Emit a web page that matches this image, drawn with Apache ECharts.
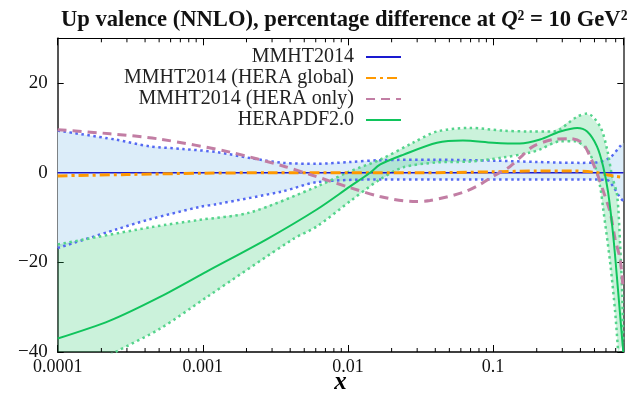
<!DOCTYPE html>
<html><head><meta charset="utf-8">
<script src="https://cdn.jsdelivr.net/npm/echarts@6/dist/echarts.min.js"></script>
<style>html,body{margin:0;padding:0;background:#fff}#c{width:637px;height:395px}</style>
</head><body><div id="c"></div>
<script>
// ---------- data ----------
const titleText = 'Up valence (NNLO), percentage difference at ';
const xName = 'x';
const xMin = 0.0001, xMax = 0.79;
const yMin = -40, yMax = 30, yInterval = 20;
const xTickValues = [0.0001, 0.001, 0.01, 0.1];
const xTickLabels = ['0.0001', '0.001', '0.01', '0.1'];
const xMinorTicks = [0.0002,0.0003,0.0004,0.0005,0.0006,0.0007,0.0008,0.0009,
  0.002,0.003,0.004,0.005,0.006,0.007,0.008,0.009,
  0.02,0.03,0.04,0.05,0.06,0.07,0.08,0.09,
  0.2,0.3,0.4,0.5,0.6,0.7];
const legendNames = ['MMHT2014', 'MMHT2014 (HERA global)', 'MMHT2014 (HERA only)', 'HERAPDF2.0'];

const mmhtCentral = [[0.0001,0],[0.79,0]];
const mmhtUpper = [[0.0001,9.4],[0.00025,7.4],[0.00043,5.9],[0.00073,5.3],[0.00125,4.6],[0.0021,3.3],[0.0036,2.2],[0.0061,2.0],[0.0103,2.4],[0.0166,2.8],[0.04,2.9],[0.1,2.7],[0.2,2.4],[0.4,2.2],[0.52,2.3],[0.64,3.4],[0.75,5.9],[0.79,6.7]];
const mmhtLower = [[0.0001,-16.8],[0.000256,-12.6],[0.00043,-10.4],[0.00096,-7.6],[0.00125,-7.0],[0.0036,-4.1],[0.0061,-2.1],[0.0166,-1.5],[0.05,-1.5],[0.15,-1.5],[0.4,-1.5],[0.61,-1.6],[0.67,-3.0],[0.75,-5.5],[0.79,-6.3]];
const heraGlobal = [[0.0001,-0.7],[0.0003,-0.4],[0.001,-0.1],[0.003,0],[0.03,0],[0.1,0.2],[0.2,0.4],[0.35,0.4],[0.5,0.1],[0.6,-0.4],[0.7,-0.8],[0.79,-1.0]];
const heraOnly = [[0.0001,9.6],[0.000229,8.7],[0.000507,7.5],[0.00154,4.6],[0.00357,1.5],[0.00548,-0.4],[0.0103,-3.3],[0.0166,-5.3],[0.0281,-6.4],[0.0368,-6.2],[0.062,-4.4],[0.0814,-2.6],[0.1,-0.8],[0.131,1.4],[0.161,4.0],[0.189,5.9],[0.259,7.4],[0.34,7.6],[0.411,6.7],[0.467,3.6],[0.53,-0.8],[0.592,-5.3],[0.641,-8.8],[0.694,-14.8],[0.751,-19.3],[0.789,-26]];
const herapdfCentral = [[0.0001,-37],[0.000229,-33],[0.000507,-27.7],[0.00107,-22],[0.00277,-14.8],[0.0061,-8.2],[0.0103,-3.1],[0.0142,0],[0.0166,1.8],[0.024,4.0],[0.0411,6.7],[0.062,7.2],[0.1,6.7],[0.153,6.5],[0.211,7.4],[0.29,9.2],[0.38,10],[0.445,9.2],[0.52,5.9],[0.574,1.4],[0.621,-4.4],[0.673,-14],[0.728,-26.5],[0.789,-40]];
const herapdfUpper = [[0.0001,-16],[0.00043,-12.2],[0.00096,-10.5],[0.0021,-8.9],[0.0061,-3.1],[0.0103,0.3],[0.0166,2.9],[0.0281,6.7],[0.0411,9.2],[0.0694,10],[0.117,9.4],[0.18,9.2],[0.259,9.2],[0.38,12.5],[0.445,13.2],[0.547,10.3],[0.611,5.2],[0.662,-0.8],[0.716,-5],[0.751,-16],[0.776,-27],[0.79,-38]];
const herapdfLower = [[0.0001,-47],[0.00025,-40],[0.000507,-34.8],[0.00107,-27.7],[0.00419,-14.8],[0.0061,-12],[0.0103,-6.4],[0.0166,-1.5],[0.024,1.2],[0.0411,2.3],[0.0694,2.5],[0.117,3.4],[0.18,4.5],[0.211,5.2],[0.29,7.0],[0.368,7.0],[0.445,5.2],[0.505,1.4],[0.547,-3.1],[0.574,-8],[0.641,-20],[0.694,-31],[0.728,-40]];

// ---------- chart ----------
const FONT = '"Liberation Serif", "Times New Roman", serif';
const chart = echarts.init(document.getElementById('c'), null, {renderer: 'canvas'});

function bandFill(upper, lower, color) {
  return {
    type: 'custom', silent: true, clip: true, z: 1,
    data: [[upper[0][0], upper[0][1]]],
    renderItem: function (params, api) {
      const pts = upper.map(p => api.coord(p)).concat(lower.slice().reverse().map(p => api.coord(p)));
      return {type: 'polygon', shape: {points: pts, smooth: 0}, style: {fill: color}};
    }
  };
}
function line(name, data, color, width, type, z) {
  return {
    name: name, type: 'line', data: data, showSymbol: false, symbol: 'none',
    smooth: 0.3, clip: true, z: z || 3, silent: true,
    lineStyle: {color: color, width: width, type: type, cap: 'butt'},
    itemStyle: {color: color}
  };
}

const option = {
  animation: false,
  backgroundColor: '#fff',
  title: {
    text: '{b|' + titleText + '}{q|Q}{b|² = 10 GeV²}',
    left: 56, top: 4,
    textStyle: {
      rich: {
        b: {fontFamily: FONT, fontWeight: 'bold', fontSize: 22.6, color: '#111'},
        q: {fontFamily: FONT, fontWeight: 'bold', fontStyle: 'italic', fontSize: 22.6, color: '#111'}
      }
    }
  },
  legend: {
    data: legendNames,
    orient: 'vertical', align: 'right',
    right: 235, top: 46.5, padding: 0, itemGap: 0,
    itemWidth: 35, itemHeight: 14,
    itemStyle: {opacity: 0},
    textStyle: {fontFamily: FONT, fontSize: 20, color: '#222', lineHeight: 21, padding: [0, 7, 0, 0]},
    selectedMode: false
  },
  grid: {left: 57.7, right: 13.7, top: 38.3, bottom: 43, containLabel: false, outerBoundsMode: 'none'},
  xAxis: [{
    type: 'log', logBase: 10, min: xMin, max: xMax,
    name: xName, nameLocation: 'middle', nameGap: 18.5, nameMoveOverlap: false,
    nameTextStyle: {fontFamily: FONT, fontWeight: 'bold', fontStyle: 'italic', fontSize: 25, color: '#000'},
    axisLine: {show: true, onZero: false, lineStyle: {color: '#000', width: 1.5}},
    axisTick: {show: true, inside: true, length: 7, lineStyle: {color: '#000'}},
    axisLabel: {
      fontFamily: FONT, fontSize: 18, color: '#111', margin: 6, showMaxLabel: false,
      formatter: function (v) {
        for (let i = 0; i < xTickValues.length; i++) {
          if (Math.abs(Math.log10(v) - Math.log10(xTickValues[i])) < 1e-6) return xTickLabels[i];
        }
        return '';
      }
    },
    splitLine: {show: false}
  }, {
    type: 'log', logBase: 10, min: xMin, max: xMax, position: 'top',
    axisLine: {show: true, onZero: false, lineStyle: {color: '#000', width: 1}},
    axisTick: {show: true, inside: true, length: 7, lineStyle: {color: '#000'}},
    axisLabel: {show: false}, splitLine: {show: false}
  }],
  yAxis: [{
    type: 'value', min: yMin, max: yMax, interval: yInterval,
    axisLine: {show: true, onZero: false, lineStyle: {color: '#555', width: 2}},
    axisTick: {show: true, inside: true, length: 6, lineStyle: {color: '#000'}},
    axisLabel: {
      fontFamily: FONT, fontSize: 19, color: '#111', margin: 10, showMaxLabel: false,
      formatter: v => String(v).replace('-', '\u2212')
    },
    splitLine: {show: false}
  }, {
    type: 'value', min: yMin, max: yMax, interval: yInterval, position: 'right',
    axisLine: {show: true, onZero: false, lineStyle: {color: '#666', width: 2}},
    axisTick: {show: true, inside: true, length: 6, lineStyle: {color: '#000'}},
    axisLabel: {show: false}, splitLine: {show: false}
  }],
  series: [
    bandFill(mmhtUpper, mmhtLower, '#dcedf9'),
    bandFill(herapdfUpper, herapdfLower, 'rgba(46,204,113,0.25)'),
    line('mmhtU', mmhtUpper, '#5468f2', 2.5, [2.5, 3.5], 2),
    line('mmhtL', mmhtLower, '#5468f2', 2.5, [2.5, 3.5], 2),
    line('hpU', herapdfUpper, '#55d48c', 2.5, [2.5, 3.5], 2),
    line('hpL', herapdfLower, '#55d48c', 2.5, [2.5, 3.5], 2),
    line(legendNames[0], mmhtCentral, '#1a1ad0', 1.3, 'solid', 4),
    line(legendNames[1], heraGlobal, '#ff9900', 3, [10, 4, 3, 4], 4),
    line(legendNames[2], heraOnly, '#c27ea4', 3, [9, 6], 4),
    line(legendNames[3], herapdfCentral, '#10c45c', 2, 'solid', 5),
    {
      type: 'custom', silent: true, z: 6,
      data: xMinorTicks.map(v => [v, 0]),
      renderItem: function (params, api) {
        const x = api.coord([api.value(0), yMin])[0];
        const yb = api.coord([xMin, yMin])[1];
        const yt = api.coord([xMin, yMax])[1];
        return {type: 'group', children: [
          {type: 'line', shape: {x1: x, y1: yb, x2: x, y2: yb - 4}, style: {stroke: '#000', lineWidth: 1}},
          {type: 'line', shape: {x1: x, y1: yt, x2: x, y2: yt + 4}, style: {stroke: '#000', lineWidth: 1}}
        ]};
      }
    }
  ]
};
chart.setOption(option);
</script>
</body></html>
